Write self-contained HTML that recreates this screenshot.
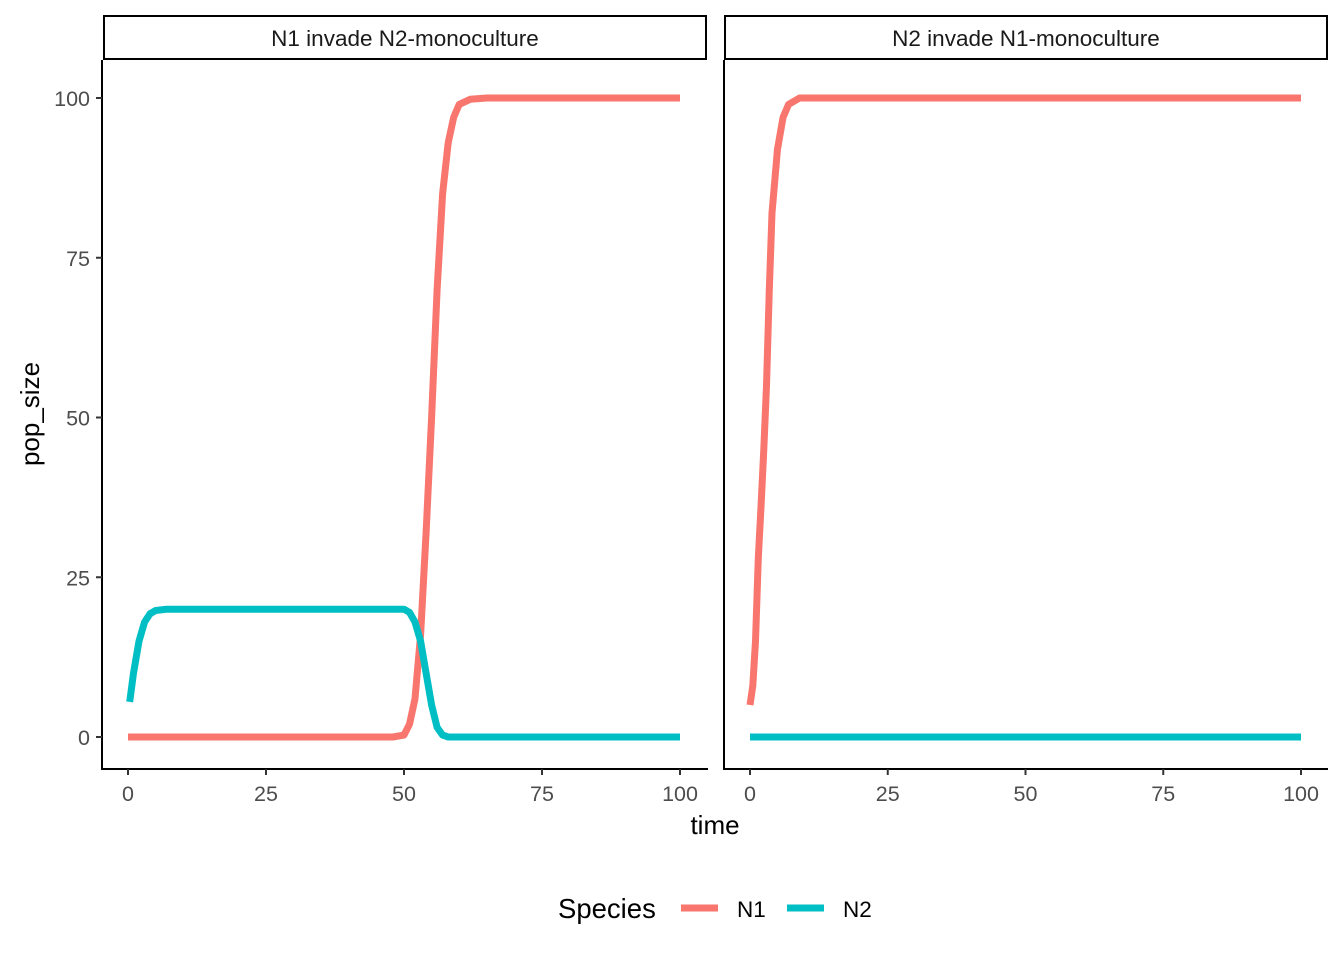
<!DOCTYPE html>
<html><head><meta charset="utf-8"><style>
body{margin:0;background:#fff}
svg{display:block;font-family:"Liberation Sans",Arial,sans-serif}
</style></head><body>
<svg id="chart" width="1344" height="960">
<g id="g"></g>
</svg>
<script>
const xTicks=[0,25,50,75,100];
const yTicks=[0,25,50,75,100];
const panelTitles=["N1 invade N2-monoculture","N2 invade N1-monoculture"];
const p1Time=[0,1,2,3,4,5,6,8,10,20,30,40,48,50,51,52,53,54,55,56,57,58,59,60,62,65,70,80,90,100];
const p1N1=[0,0,0,0,0,0,0,0,0,0,0,0,0,0.3,2,6,16,32,50,70,85,93,97,99,99.8,100,100,100,100,100];
const p1N2Time=[0.3,1,2,3,4,5,7,10,20,30,40,48,50,51,52,53,54,55,56,57,58,60,70,80,90,100];
const p1N2=[5.5,10,15,18,19.3,19.8,20,20,20,20,20,20,20,19.5,18,15,10,5,1.5,0.3,0,0,0,0,0,0];
const p2Time=[0,0.5,1,1.5,2,2.5,3,3.5,4,5,6,7,9,12,20,40,60,80,100];
const p2N1=[5,8,15,28,36,45,55,70,82,92,97,99,100,100,100,100,100,100,100];
const p2N2Time=[0,25,50,75,100];
const p2N2=[0,0,0,0,0];
const panels=[{x0:128,x1:680,ax:102,ax1:708,strip:[103,707]},{x0:750,x1:1301,ax:724,ax1:1328,strip:[724,1328]}];
const y0=737,y100=98;
const ys=v=>y0+(y100-y0)*v/100;
const NS="http://www.w3.org/2000/svg";
const g=document.getElementById('g');
function el(t,a,txt){const e=document.createElementNS(NS,t);for(const k in a)e.setAttribute(k,a[k]);if(txt!==undefined)e.textContent=txt;g.appendChild(e);return e;}
panels.forEach((p,i)=>{
  const xs=v=>p.x0+(p.x1-p.x0)*v/100;
  let r=el('rect',{x:p.strip[0]+1,y:16,width:p.strip[1]-p.strip[0]-2,height:43,fill:'#fff',stroke:'#000','stroke-width':2});
  
  
  let t=el('text',{x:(p.strip[0]+p.strip[1])/2,y:46,'text-anchor':'middle','font-size':22.5,fill:'#1a1a1a'},panelTitles[i]);
  
  
  let ax=el('line',{x1:p.ax,x2:p.ax1,y1:769,y2:769,stroke:'#000','stroke-width':2});
  
  
  let ay=el('line',{x1:p.ax,x2:p.ax,y1:60,y2:770,stroke:'#000','stroke-width':2});
  
  
  xTicks.forEach(v=>{
    let tk=el('line',{x1:xs(v),x2:xs(v),y1:769,y2:775,stroke:'#333','stroke-width':2});
    
    
    let l=el('text',{x:xs(v),y:801,'text-anchor':'middle','font-size':21.5,fill:'#4d4d4d'},v);
    
    
  });
  if(i===0) yTicks.forEach(v=>{
    let tk=el('line',{x1:96,x2:102,y1:ys(v),y2:ys(v),stroke:'#333','stroke-width':2});
    
    
    let l=el('text',{x:90,y:ys(v)+8,'text-anchor':'end','font-size':21.5,fill:'#4d4d4d'},v);
    
    
  });
  const series=i===0?[[p1Time,p1N1,'#F8766D','n1'],[p1N2Time,p1N2,'#00BFC4','n2']]:[[p2Time,p2N1,'#F8766D','n1'],[p2N2Time,p2N2,'#00BFC4','n2']];
  series.forEach(s=>{
    const d=s[0].map((tv,k)=>(k?'L':'M')+xs(tv).toFixed(1)+','+ys(s[1][k]).toFixed(1)).join('');
    let pth=el('path',{d:d,fill:'none',stroke:s[2],'stroke-width':7,'stroke-linejoin':'round','stroke-linecap':'butt'});
    
    
  });
});
let yt=el('text',{x:0,y:0,transform:'translate(39,414) rotate(-90)','text-anchor':'middle','font-size':26,fill:'#000'},'pop_size');


let xt=el('text',{x:715,y:834,'text-anchor':'middle','font-size':26,fill:'#000'},'time');


let lt=el('text',{x:558,y:918,'font-size':27.5,fill:'#000'},'Species');


[[681,737,'#F8766D','N1'],[787,843,'#00BFC4','N2']].forEach(e=>{
  let k=el('line',{x1:e[0],x2:e[0]+37,y1:908,y2:908,stroke:e[2],'stroke-width':7});
  
  
  let l=el('text',{x:e[1],y:917,'font-size':22.5,fill:'#000'},e[3]);
  
  
});
</script>
</body></html>
